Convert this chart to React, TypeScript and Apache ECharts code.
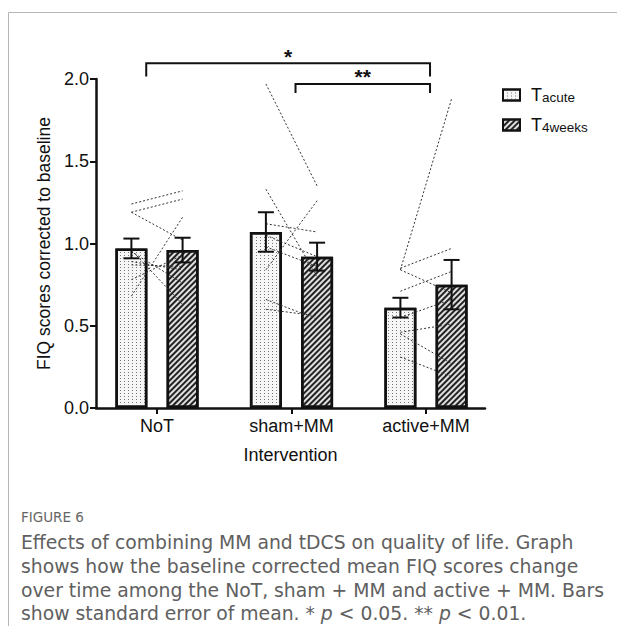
import React, { useEffect, useRef } from 'react';
import * as echarts from 'echarts';

// ---------- data ----------
const categories = ['NoT', 'sham+MM', 'active+MM'];
const acuteMeans = [0.97, 1.07, 0.61];
const acuteSE = [0.06, 0.12, 0.06];
const weeksMeans = [0.96, 0.92, 0.75];
const weeksSE = [0.075, 0.085, 0.15];
const yTickValues = [0, 0.5, 1.0, 1.5, 2.0];

// individual subjects: [T_acute, T_4weeks]
const subjectsNoT = [
  [1.24, 1.32], [1.19, 1.27], [1.19, 1.02], [0.68, 1.16], [0.96, 0.63],
  [0.78, 0.93], [0.89, 0.84], [0.95, 0.76], [0.87, 0.86],
];
const subjectsSham = [
  [1.97, 1.35], [1.33, 0.8], [0.84, 1.26], [1.12, 1.07], [1.05, 0.92],
  [0.98, 0.86], [0.66, 0.54], [0.6, 0.56],
];
const subjectsActive = [
  [0.84, 1.88], [0.85, 0.97], [0.71, 0.83], [0.84, 0.7], [0.55, 0.66],
  [0.46, 0.51], [0.45, 0.27], [0.31, 0.19],
];

// significance brackets: [from, to, top, legBottom, labelIndex]
const bracketLabels = ['*', '**'];
const brackets = [
  [-0.08, 2.03, 2.095, 2.015, 0],
  [1.03, 2.03, 1.97, 1.915, 1],
];

const captionLines = [
  'Effects of combining MM and tDCS on quality of life. Graph',
  'shows how the baseline corrected mean FIQ scores change',
  'over time among the NoT, sham + MM and active + MM. Bars',
];

// ---------- layout ----------
const W = 617;
const H = 626;
const FONT = '"Liberation Sans", Arial, sans-serif';
const CAP_FONT = '"DejaVu Sans", "Open Sans", sans-serif';
const barWidthPx = 32;
const barGapRatio = 0.6;
const pairOffset = (barWidthPx * (1 + barGapRatio)) / 2;

export default function App() {
  const ref = useRef<HTMLDivElement>(null);

  useEffect(() => {
    if (!ref.current) return;
    const chart = echarts.init(ref.current, null, { renderer: 'svg', width: W, height: H });

    const subjectData: number[][] = [];
    [subjectsNoT, subjectsSham, subjectsActive].forEach((grp, gi) => {
      grp.forEach((p) => subjectData.push([gi, p[0], p[1]]));
    });

    const errorData: number[][] = [];
    acuteMeans.forEach((m, i) => errorData.push([i, m, acuteSE[i], -1]));
    weeksMeans.forEach((m, i) => errorData.push([i, m, weeksSE[i], 1]));

    const CAP_SIZE = 18.8;
    const CAP_COLOR = '#606060';
    const capStyle = {
      fontSize: CAP_SIZE,
      lineHeight: 20,
      fontFamily: CAP_FONT,
      fill: CAP_COLOR,
      verticalAlign: 'middle',
    };

    const option: any = {
      animation: false,
      backgroundColor: '#ffffff',
      textStyle: { fontFamily: FONT },
      grid: { left: 96, right: W - 485, top: 79, bottom: H - 408, containLabel: false },
      legend: {
        orient: 'vertical',
        left: 502,
        top: 82,
        padding: 0,
        itemWidth: 17,
        itemHeight: 11,
        itemGap: 8,
        icon: 'rect',
        itemStyle: { borderColor: '#111', borderWidth: 2 },
        data: ['Tacute', 'T4weeks'],
        formatter: (name: string) => '{t|T}{s|' + name.slice(1) + '}',
        textStyle: {
          color: '#111',
          rich: {
            t: { fontSize: 18, lineHeight: 18, verticalAlign: 'top', padding: [0, 0, 0, 6], fontFamily: FONT, color: '#111' },
            s: { fontSize: 13.5, lineHeight: 13, verticalAlign: 'bottom', padding: [8, 0, 0, 0], fontFamily: FONT, color: '#111' },
          },
        },
      },
      xAxis: {
        type: 'value',
        min: -0.4535,
        max: 2.4387,
        splitLine: { show: false },
        axisLine: { show: true, onZero: false, lineStyle: { color: '#111', width: 2.5 } },
        axisTick: { show: true, customValues: [0, 1, 2], length: 6, lineStyle: { color: '#111', width: 2 } },
        axisLabel: {
          customValues: [0, 1, 2],
          formatter: (v: number) => categories[Math.round(v)] ?? '',
          fontSize: 18,
          color: '#111',
          margin: 9,
          fontFamily: FONT,
        },
        name: 'Intervention',
        nameLocation: 'middle',
        nameGap: 38,
        nameTextStyle: { fontSize: 18, color: '#111', fontFamily: FONT },
      },
      yAxis: {
        type: 'value',
        min: 0,
        max: 2,
        interval: 0.5,
        splitLine: { show: false },
        axisLine: { show: true, onZero: false, lineStyle: { color: '#111', width: 2.5 } },
        axisTick: { show: true, length: 6, lineStyle: { color: '#111', width: 2 } },
        axisLabel: {
          formatter: (v: number) => (yTickValues.indexOf(v) >= 0 ? v.toFixed(1) : ''),
          fontSize: 18,
          color: '#111',
          margin: 7,
          fontFamily: FONT,
        },
        name: 'FIQ scores corrected to baseline',
        nameLocation: 'middle',
        nameGap: 37,
        nameTextStyle: { fontSize: 17.5, color: '#111', fontFamily: FONT },
      },
      series: [
        {
          type: 'bar',
          name: 'Tacute',
          data: acuteMeans.map((v, i) => [i, v]),
          barWidth: barWidthPx,
          barGap: barGapRatio * 100 + '%',
          z: 2,
          itemStyle: {
            color: '#f6f6f6',
            borderColor: '#111',
            borderWidth: 2.5,
            decal: {
              symbol: 'rect',
              symbolSize: 1,
              dashArrayX: [1, 3],
              dashArrayY: [1, 2],
              color: '#777',
            },
          },
        },
        {
          type: 'bar',
          name: 'T4weeks',
          data: weeksMeans.map((v, i) => [i, v]),
          barWidth: barWidthPx,
          barGap: barGapRatio * 100 + '%',
          z: 2,
          itemStyle: {
            color: '#e0e0e0',
            borderColor: '#111',
            borderWidth: 2.5,
            decal: {
              symbol: 'rect',
              symbolSize: 1,
              dashArrayX: [1, 0],
              dashArrayY: [1.4, 2],
              rotation: -Math.PI / 4,
              color: '#222',
            },
          },
        },
        {
          type: 'custom',
          name: 'subjects',
          z: 3,
          clip: false,
          data: subjectData,
          renderItem: (params: any, api: any) => {
            const g = api.value(0);
            const a = api.coord([g, api.value(1)]);
            const b = api.coord([g, api.value(2)]);
            return {
              type: 'line',
              shape: { x1: a[0] - pairOffset, y1: a[1], x2: b[0] + pairOffset, y2: b[1] },
              style: { stroke: '#333', lineWidth: 1, lineDash: [2, 2], fill: null },
            };
          },
        },
        {
          type: 'custom',
          name: 'errors',
          z: 4,
          data: errorData,
          renderItem: (params: any, api: any) => {
            const i = api.value(0);
            const m = api.value(1);
            const se = api.value(2);
            const side = api.value(3);
            const top = api.coord([i, m + se]);
            const bot = api.coord([i, m - se]);
            const x = top[0] + side * pairOffset;
            const cap = 8;
            const st = { stroke: '#111', lineWidth: 2 };
            return {
              type: 'group',
              children: [
                { type: 'line', shape: { x1: x, y1: top[1], x2: x, y2: bot[1] }, style: st },
                { type: 'line', shape: { x1: x - cap, y1: top[1], x2: x + cap, y2: top[1] }, style: st },
                { type: 'line', shape: { x1: x - cap, y1: bot[1], x2: x + cap, y2: bot[1] }, style: st },
              ],
            };
          },
        },
        {
          type: 'custom',
          name: 'brackets',
          z: 5,
          clip: false,
          data: brackets,
          renderItem: (params: any, api: any) => {
            const p1 = api.coord([api.value(0), api.value(2)]);
            const p2 = api.coord([api.value(1), api.value(2)]);
            const legY = api.coord([api.value(0), api.value(3)])[1];
            const label = bracketLabels[api.value(4)];
            return {
              type: 'group',
              children: [
                {
                  type: 'polyline',
                  shape: { points: [[p1[0], legY], [p1[0], p1[1]], [p2[0], p2[1]], [p2[0], legY]] },
                  style: { stroke: '#111', lineWidth: 2, fill: null },
                },
                {
                  type: 'text',
                  x: (p1[0] + p2[0]) / 2,
                  y: p1[1] - 7,
                  style: {
                    text: label,
                    fontSize: 21,
                    fontWeight: 'bold',
                    fontFamily: FONT,
                    fill: '#111',
                    align: 'center',
                    verticalAlign: 'middle',
                  },
                },
              ],
            };
          },
        },
      ],
      graphic: [
        { type: 'line', shape: { x1: 8.5, y1: 12.5, x2: W, y2: 12.5 }, style: { stroke: '#b5b5b5', lineWidth: 1 } },
        { type: 'line', shape: { x1: 8.5, y1: 12.5, x2: 8.5, y2: H }, style: { stroke: '#b5b5b5', lineWidth: 1 } },
        {
          type: 'text',
          x: 21,
          y: 517,
          style: { text: 'FIGURE 6', fontSize: 13.5, lineHeight: 16, fontFamily: CAP_FONT, fill: '#666', verticalAlign: 'middle' },
        },
        ...captionLines.map((t, k) => ({
          type: 'text',
          x: 21,
          y: 542 + k * 24,
          style: { ...capStyle, text: t },
        })),
        {
          type: 'text',
          x: 21,
          y: 541 + 3 * 24,
          style: {
            ...capStyle,
            text: '{n|show standard error of mean. * }{i|p}{n| < 0.05. ** }{i|p}{n| < 0.01.}',
            rich: {
              n: { fontSize: CAP_SIZE, lineHeight: 20, fontFamily: CAP_FONT, fill: CAP_COLOR },
              i: { fontSize: CAP_SIZE, lineHeight: 20, fontFamily: CAP_FONT, fontStyle: 'italic', fill: CAP_COLOR },
            },
          },
        },
      ],
    };

    chart.setOption(option);
    return () => chart.dispose();
  }, []);

  return (
    <div
      ref={ref}
      style={{ position: 'fixed', left: 0, top: 0, width: W, height: H, background: '#fff' }}
    />
  );
}
